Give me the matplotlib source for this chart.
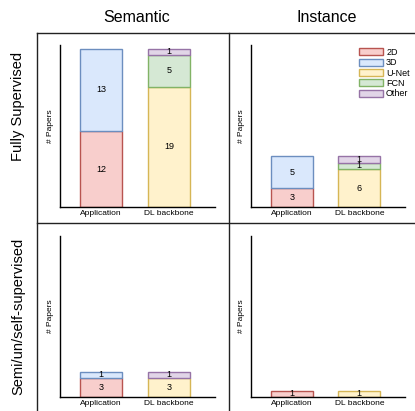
import matplotlib.pyplot as plt
from matplotlib.patches import Patch
from matplotlib.lines import Line2D

plt.rcParams['font.family'] = ['Liberation Sans', 'DejaVu Sans']

W, H = 415, 411

categories = ['Application', 'DL backbone']
columns = ['Semantic', 'Instance']
rows = ['Fully Supervised', 'Semi/un/self-supervised']

# application split
app_series = ['2D', '3D']
# backbone split
dl_series = ['U-Net', 'FCN', 'Other']

# values per panel: (row, col)
app_values = {
    (0, 0): [12, 13],
    (0, 1): [3, 5],
    (1, 0): [3, 1],
    (1, 1): [1, 0],
}
dl_values = {
    (0, 0): [19, 5, 1],
    (0, 1): [6, 1, 1],
    (1, 0): [3, 0, 1],
    (1, 1): [1, 0, 0],
}

fills = {'2D': '#f8cecc', '3D': '#dae8fc', 'U-Net': '#fff2cc',
         'FCN': '#d5e8d4', 'Other': '#e1d5e7'}
edges = {'2D': '#b85450', '3D': '#6c8ebf', 'U-Net': '#d6b656',
         'FCN': '#82b366', 'Other': '#9673a6'}


def px_rect(x0, y0, x1, y1):
    return [x0 / W, 1 - y1 / H, (x1 - x0) / W, (y1 - y0) / H]


fig = plt.figure(figsize=(W / 100, H / 100), dpi=100)

ax_x = [(60, 215), (251, 405)]
ax_y = [(45, 207), (236, 397)]


def stack(ax, xpos, names, vals):
    bottom = 0
    for name, v in zip(names, vals):
        if v == 0:
            continue
        ax.bar(xpos, v, bottom=bottom, width=0.62, color=fills[name],
               edgecolor=edges[name], linewidth=1)
        ax.text(xpos, bottom + v / 2, str(v), ha='center', va='center',
                fontsize=6.5)
        bottom += v


for r in range(2):
    for c in range(2):
        ax = fig.add_axes(px_rect(ax_x[c][0], ax_y[r][0], ax_x[c][1], ax_y[r][1]))
        stack(ax, 0, app_series, app_values[(r, c)])
        stack(ax, 1, dl_series, dl_values[(r, c)])
        ax.set_xlim(-0.605, 1.678)
        ax.set_ylim(0, 25.6)
        ax.spines['top'].set_visible(False)
        ax.spines['right'].set_visible(False)
        ax.spines['left'].set_linewidth(1)
        ax.spines['bottom'].set_linewidth(1)
        ax.set_yticks([])
        ax.set_xticks([0, 1])
        ax.set_xticklabels(categories, fontsize=6)
        ax.tick_params(axis='x', length=0, pad=2)
        ax.set_ylabel('# Papers', fontsize=6, labelpad=4)

# column and row titles
fig.text(137 / W, 1 - 17 / H, columns[0], ha='center', va='center', fontsize=11.5)
fig.text(327 / W, 1 - 17 / H, columns[1], ha='center', va='center', fontsize=11.5)
fig.text(18 / W, 1 - 106 / H, rows[0], ha='center', va='center',
         rotation=90, fontsize=10.5)
fig.text(18 / W, 1 - 316 / H, rows[1], ha='center', va='center',
         rotation=90, fontsize=10.5)

# grid box
lc = '#222222'
fig.add_artist(Line2D([37 / W, 1], [1 - 33 / H] * 2, color=lc, lw=1))
fig.add_artist(Line2D([37 / W, 1], [1 - 223 / H] * 2, color=lc, lw=1))
fig.add_artist(Line2D([37 / W] * 2, [1 - 33 / H, 0], color=lc, lw=1))
fig.add_artist(Line2D([229 / W] * 2, [1 - 33 / H, 0], color=lc, lw=1))

handles = [Patch(facecolor=fills[n], edgecolor=edges[n], linewidth=1, label=n)
           for n in app_series + dl_series]
fig.legend(handles=handles, loc='upper left',
           bbox_to_anchor=(359 / W, 1 - 48 / H), frameon=False, fontsize=6.5,
           handlelength=2.7, handleheight=0.8, labelspacing=0.15,
           handletextpad=0.3, borderpad=0, borderaxespad=0)

fig.savefig('out.png', dpi=100)
